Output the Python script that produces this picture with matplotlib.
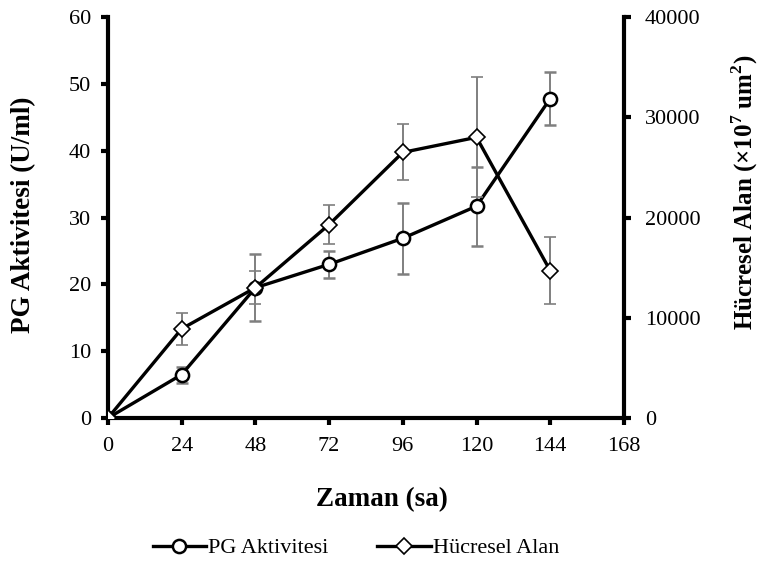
import matplotlib
matplotlib.use("Agg")
import matplotlib.pyplot as plt
from matplotlib.lines import Line2D
import numpy as np

plt.rcParams['font.family'] = ['Liberation Serif', 'DejaVu Serif']
plt.rcParams['mathtext.fontset'] = 'custom'
plt.rcParams['mathtext.rm'] = 'Liberation Serif'
plt.rcParams['mathtext.bf'] = 'Liberation Serif:bold'

hours = [0, 24, 48, 72, 96, 120, 144]
pg = [0, 6.5, 19.5, 23.0, 26.9, 31.7, 47.8]
pg_err = [0, 1.2, 5.0, 2.0, 5.3, 5.9, 4.0]
area = [0, 8900, 13000, 19300, 26500, 28000, 14700]
area_err = [0, 1600, 1650, 1950, 2800, 6000, 3350]
x_ticks = [0, 24, 48, 72, 96, 120, 144, 168]

fig = plt.figure(figsize=(7.6, 5.68), dpi=100)
ax = fig.add_axes([0.142, 0.264, 0.679, 0.706])
ax2 = ax.twinx()

lw = 2.4
ecol = '#7f7f7f'
ax.errorbar(hours, pg, yerr=pg_err, color='black', lw=lw, marker='o', ms=9.5,
            mfc='white', mec='black', mew=1.8, ecolor=ecol, elinewidth=1.4,
            capsize=4, capthick=1.4, zorder=3)
ax2.errorbar(hours, area, yerr=area_err, color='black', lw=lw, marker='D', ms=8,
             mfc='white', mec='black', mew=1.2, ecolor=ecol, elinewidth=1.4,
             capsize=4, capthick=1.4, zorder=3)

ax.set_xlim(0, 168)
ax.set_ylim(0, 60)
ax2.set_ylim(0, 40000)
ax.set_xticks(x_ticks)
ax.set_yticks(np.arange(0, 61, 10))
ax2.set_yticks(np.arange(0, 40001, 10000))

for a in (ax, ax2):
    for s in a.spines.values():
        s.set_linewidth(3)
    a.spines['top'].set_visible(False)
    a.tick_params(labelsize=16, width=3, length=5, direction='out')
ax.tick_params(axis='y', pad=7)
ax.tick_params(axis='x', pad=9)
ax2.tick_params(axis='y', pad=10)
ax.spines['right'].set_visible(False)
ax2.spines['left'].set_visible(False)
ax2.spines['bottom'].set_visible(False)

fig.text(382 / 760, 1 - 500 / 568, 'Zaman (sa)', fontsize=19.5, fontweight='bold',
         ha='center', va='center')
fig.text(24 / 760, 1 - 215 / 568, 'PG Aktivitesi (U/ml)', fontsize=19.5,
         fontweight='bold', ha='center', va='center', rotation=90)
fig.text(745 / 760, 1 - 192 / 568, r'Hücresel Alan (×10$^{\mathbf{7}}$ um$^{\mathbf{2}}$)',
         fontsize=18, fontweight='bold', ha='center', va='center', rotation=90)

h1 = Line2D([], [], color='black', lw=lw, marker='o', ms=9.5, mfc='white', mec='black', mew=1.8)
h2 = Line2D([], [], color='black', lw=lw, marker='D', ms=8, mfc='white', mec='black', mew=1.2)
fig.legend([h1, h2], ['PG Aktivitesi', 'Hücresel Alan'], loc='center',
           bbox_to_anchor=(356 / 760, 1 - 548 / 568), ncol=2, frameon=False, fontsize=16,
           handlelength=2.4, handletextpad=0.1, columnspacing=2.2)

fig.savefig('out.png', dpi=100)
